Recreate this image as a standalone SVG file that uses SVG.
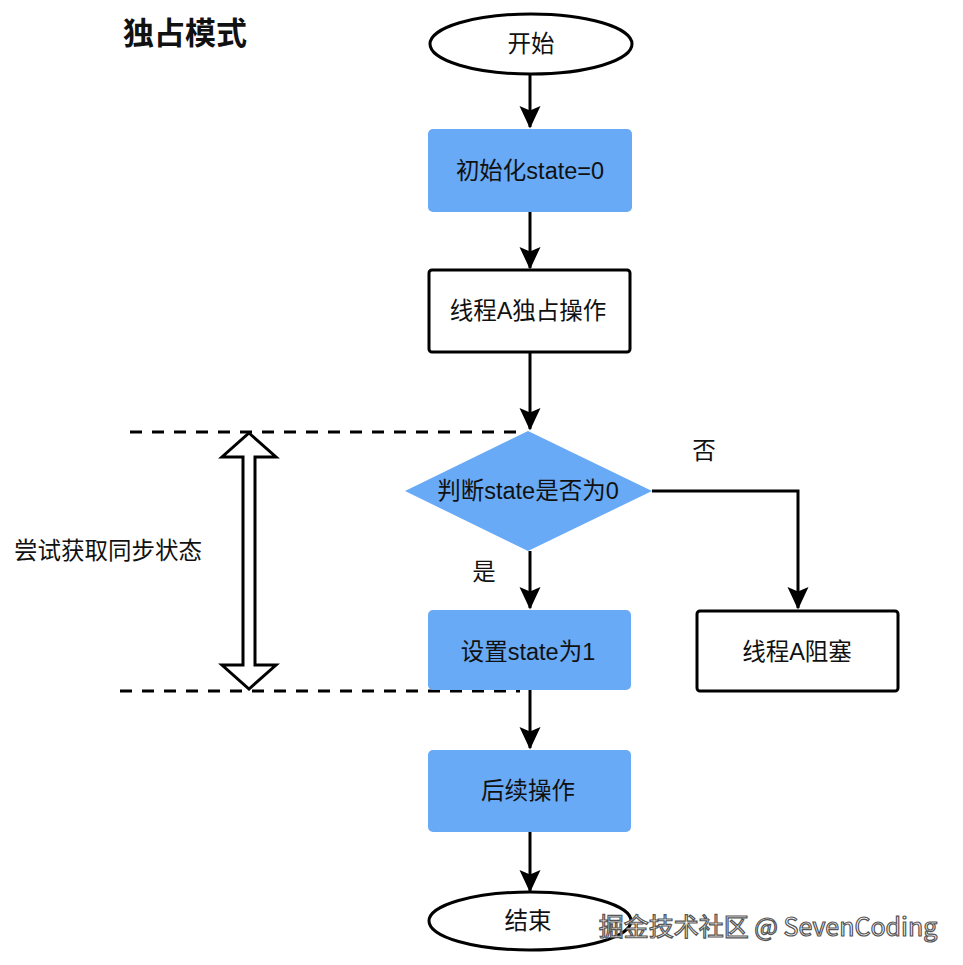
<svg xmlns="http://www.w3.org/2000/svg" width="963" height="965" viewBox="0 0 963 965">
<defs>
<style>
.t{font-family:"Liberation Sans","Noto Sans CJK SC",sans-serif;font-size:23.5px;fill:#111;text-anchor:middle;dominant-baseline:central}
.blue{fill:#68aaf6;stroke:none}
.white{fill:#fff;stroke:#000;stroke-width:3}
.edge{stroke:#000;stroke-width:3;fill:none}
.dash{stroke:#000;stroke-width:3;fill:none;stroke-dasharray:12 10}
</style>
<marker id="ah" markerWidth="8" markerHeight="8" refX="7" refY="4" orient="auto" markerUnits="strokeWidth" viewBox="0 0 8 8">
<path d="M0,0.5 L7.5,4 L0,7.5 L1.5,4 Z" fill="#000"/>
</marker>
</defs>
<rect width="963" height="965" fill="#fff"/>
<text x="185" y="33" class="t" style="font-size:31px;font-weight:bold">独占模式</text>

<g id="connectors">
<line class="edge" x1="530" y1="74" x2="530" y2="127" marker-end="url(#ah)"/>
<line class="edge" x1="530" y1="212" x2="530" y2="268" marker-end="url(#ah)"/>
<line class="edge" x1="530" y1="352" x2="530" y2="429" marker-end="url(#ah)"/>
<line class="edge" x1="530" y1="551" x2="530" y2="608" marker-end="url(#ah)"/>
<polyline class="edge" points="652,491 798,491 798,608" marker-end="url(#ah)"/>
<line class="edge" x1="530" y1="690" x2="530" y2="748" marker-end="url(#ah)"/>
<line class="edge" x1="530" y1="832" x2="530" y2="891" marker-end="url(#ah)"/>
<text x="704" y="451" class="t">否</text>
<text x="484" y="572" class="t">是</text>
</g>

<g id="sync-range">
<line class="dash" x1="130" y1="432" x2="526" y2="432"/>
<line class="dash" x1="120" y1="691" x2="520" y2="691"/>
<path d="M249,433 L276,457 L255,457 L255,665 L276,665 L249,689 L222,665 L243,665 L243,457 L222,457 Z" fill="#fff" stroke="#000" stroke-width="3" stroke-linejoin="miter"/>
<text x="108" y="551" class="t">尝试获取同步状态</text>
</g>

<g id="start">
<ellipse class="white" cx="531" cy="44" rx="101" ry="30"/>
<text x="531" y="44" class="t">开始</text>
</g>
<g id="init">
<rect class="blue" x="428" y="129" width="204" height="83" rx="5"/>
<text x="530" y="171" class="t">初始化state=0</text>
</g>
<g id="threadA">
<rect class="white" x="429" y="270" width="201" height="82" rx="3"/>
<text x="528" y="311" class="t">线程A独占操作</text>
</g>
<g id="decision">
<polygon class="blue" points="528,431 652,491 528,551 405,491"/>
<text x="528" y="491" class="t">判断state是否为0</text>
</g>
<g id="setState">
<rect class="blue" x="428" y="610" width="203" height="80" rx="5"/>
<text x="528" y="652" class="t">设置state为1</text>
</g>
<g id="blocked">
<rect class="white" x="697" y="611" width="201" height="80" rx="3"/>
<text x="797" y="652" class="t">线程A阻塞</text>
</g>
<g id="next">
<rect class="blue" x="428" y="750" width="203" height="82" rx="5"/>
<text x="528" y="791" class="t">后续操作</text>
</g>
<g id="end">
<ellipse class="white" cx="530" cy="921" rx="101" ry="29"/>
<text x="528" y="921" class="t">结束</text>
</g>
<text x="768" y="925" class="t" style="font-size:25px;fill:#fff;stroke:#555;stroke-width:1.2;font-family:'Noto Sans CJK SC','Noto Sans',sans-serif">掘金技术社区 @ SevenCoding</text>
</svg>
